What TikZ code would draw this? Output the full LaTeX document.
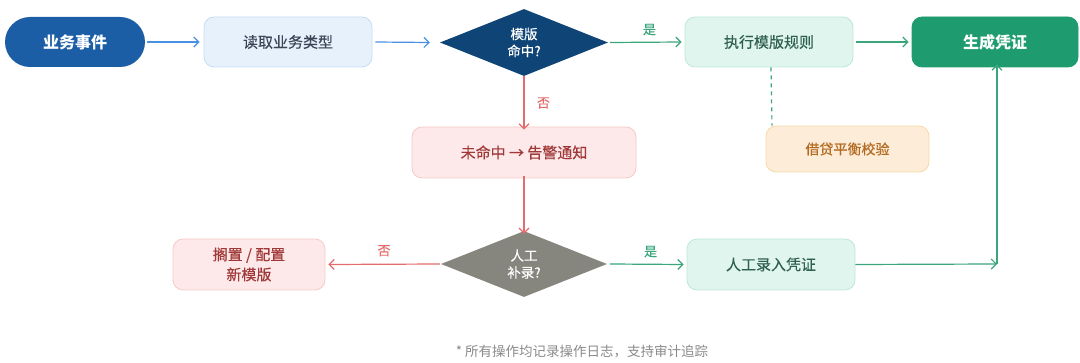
\documentclass[tikz,border=0pt]{standalone}
\usepackage{fontspec}
\setmainfont{Noto Sans CJK SC}
\newfontfamily\medfont[FakeBold=0.3]{Noto Sans CJK SC}
\usetikzlibrary{arrows.meta,shapes.geometric}
\definecolor{cBlueDark}{HTML}{1B5EA6}
\definecolor{cBlueArr}{HTML}{4A90E2}
\definecolor{cBlueFill}{HTML}{E7F1FC}
\definecolor{cBlueLine}{HTML}{C5DCF5}
\definecolor{cNavy}{HTML}{0F4477}
\definecolor{cGreenArr}{HTML}{3BA57B}
\definecolor{cGreenFill}{HTML}{E0F5EE}
\definecolor{cGreenLine}{HTML}{BDE8D7}
\definecolor{cGreenDark}{HTML}{1F9C6F}
\definecolor{cGreenText}{HTML}{2F5F4F}
\definecolor{cOrFill}{HTML}{FCECD8}
\definecolor{cOrLine}{HTML}{F7D9A8}
\definecolor{cOrText}{HTML}{B36B22}
\definecolor{cRedArr}{HTML}{E46C6C}
\definecolor{cPinkFill}{HTML}{FDE9E9}
\definecolor{cPinkLine}{HTML}{F7C9C9}
\definecolor{cRedText}{HTML}{A03838}
\definecolor{cGray}{HTML}{87867E}
\definecolor{cFoot}{HTML}{8A8A8A}
\definecolor{cSlate}{HTML}{3A4656}
\begin{document}
\begin{tikzpicture}[x=1pt,y=-1pt,
  box/.style={rectangle,rounded corners=10pt,line width=0.8pt,minimum width=168pt,minimum height=50pt,inner sep=0pt,align=center,font=\medfont\fontsize{15}{18}\selectfont},
  bluebox/.style={box,fill=cBlueFill,draw=cBlueLine,text=cSlate},
  greenbox/.style={box,fill=cGreenFill,draw=cGreenLine,text=cGreenText},
  pinkbox/.style={box,fill=cPinkFill,draw=cPinkLine,text=cRedText},
  orbox/.style={box,fill=cOrFill,draw=cOrLine,text=cOrText,minimum width=163pt,minimum height=46pt,font=\medfont\fontsize{14}{17}\selectfont},
  dia/.style={diamond,aspect=2.5,minimum width=168pt,minimum height=67pt,inner sep=0pt,align=center,text=white,font=\medfont\fontsize{13.5}{17}\selectfont},
  arr/.style={line width=1.2pt,-{Straight Barb[length=5pt,width=10pt,line width=1.2pt]}},
  blarr/.style={arr,draw=cBlueArr},
  grarr/.style={arr,draw=cGreenArr},
  rdarr/.style={arr,draw=cRedArr},
  lblg/.style={text=cGreenArr,font=\medfont\fontsize{13}{15}\selectfont},
  lblr/.style={text=cRedArr,font=\medfont\fontsize{13}{15}\selectfont}
]
\useasboundingbox (0,0) rectangle (1080,363);
\node[rectangle,rounded corners=25pt,fill=cBlueDark,minimum width=140pt,minimum height=50pt,text=white,font=\fontsize{16}{19}\selectfont\bfseries] (start) at (75,42) {业务事件};
\node[bluebox] (read) at (288,42) {读取业务类型};
\node[dia,fill=cNavy] (hit) at (524,42.5) {模版\\命中?};
\node[greenbox] (exec) at (769,42) {执行模版规则};
\node[box,fill=cGreenDark,draw=cGreenDark,text=white,minimum width=166pt,font=\fontsize{16}{19}\selectfont\bfseries] (gen) at (995,42) {生成凭证};
\node[orbox] (check) at (847.5,149) {借贷平衡校验};
\node[pinkbox,minimum width=224pt,minimum height=51pt] (alarm) at (524,152.5) {未命中 → 告警通知};
\node[dia,fill=cGray,minimum width=166pt,minimum height=66pt] (manual) at (524,264) {人工\\补录?};
\node[pinkbox,minimum width=152pt,minimum height=51pt,font=\medfont\fontsize{15}{20}\selectfont] (hold) at (249,264.5) {搁置 / 配置\\新模版};
\node[greenbox,minimum height=51pt] (entry) at (771,264.5) {人工录入凭证};
\coordinate (corner) at (997,264);
\node[text=cFoot,font=\fontsize{13.5}{16}\selectfont] (foot) at (582,352) {* 所有操作均记录操作日志，支持审计追踪};

\draw[blarr] ([xshift=2pt]start.east) -- ([xshift=-4pt]read.west);
\draw[blarr] ([xshift=3pt]read.east) -- ([xshift=-10pt]hit.west);
\draw[grarr] ([xshift=2pt]hit.east) -- node[lblg,above=3pt,pos=0.55]{是} ([xshift=-3pt]exec.west);
\draw[grarr] ([xshift=3pt]exec.east) -- ([xshift=-3pt]gen.west);
\draw[cGreenArr,line width=1.2pt,dashed,dash pattern=on 4pt off 4pt] ([xshift=2pt]exec.south) -- ([xshift=-75.5pt]check.north);
\draw[rdarr] (hit.south) -- node[lblr,right=9pt,pos=0.5]{否} ([yshift=-3pt]alarm.north);
\draw[rdarr] ([yshift=2pt]alarm.south) -- ([yshift=-3pt]manual.north);
\draw[rdarr] ([xshift=-1pt]manual.west) -- node[lblr,above=4pt,pos=0.5]{否} ([xshift=3pt]hold.east);
\draw[grarr] ([xshift=3pt]manual.east) -- node[lblg,above=3pt,pos=0.55]{是} ([xshift=-3pt]entry.west);
\draw[grarr] (entry.east) -- (corner);
\draw[grarr] (corner) -- ([xshift=2pt,yshift=3pt]gen.south);
\end{tikzpicture}
\end{document}
